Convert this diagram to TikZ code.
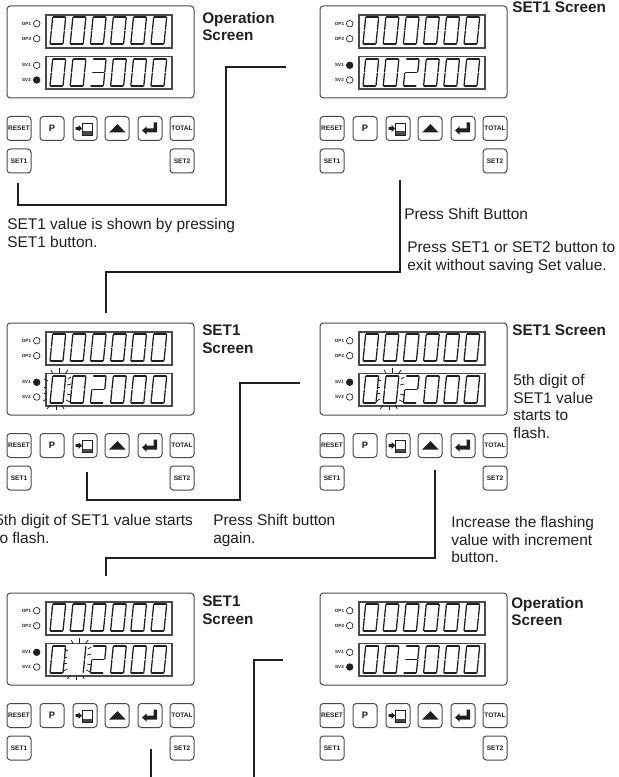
\documentclass[tikz,border=0pt]{standalone}
\usepackage{fontspec}
\setmainfont{Liberation Sans}
\definecolor{INKdark}{HTML}{231F20}
\definecolor{INKgray}{HTML}{4A4A4A}
\usetikzlibrary{calc, positioning}
\tikzset{
   note/.style={anchor=north west, inner sep=0pt, align=left, text=INKdark,
      font=\fontsize{11.6}{13.2}\selectfont},
   title/.style={note, font=\fontsize{11.5}{13.2}\selectfont\bfseries},
   wire/.style={INKdark, line width=1.1pt},
   casing/.style={INKgray, line width=0.75pt, rounded corners=2.5pt},
   window/.style={INKgray, line width=0.9pt},
   segline/.style={INKdark, line width=0.95pt, line cap=round},
   flashline/.style={INKdark, line width=0.6pt},
   key/.style={draw=INKgray, line width=0.75pt, rounded corners=2.5pt, minimum size=18pt,
      inner sep=0pt, text=INKdark},
   keylabel/.style={font=\fontsize{4.9}{5}\selectfont\bfseries},
   ledlabel/.style={inner sep=0pt, text=INKdark, font=\fontsize{3.4}{4}\selectfont\bfseries}
}
% One seven segment digit, origin at its lower left corner
\newcommand{\segA}{\draw[segline] (0.6,-27) -- (12.4,-27);}
\newcommand{\segB}{\draw[segline] (13,-26.4) -- (13,-14.2);}
\newcommand{\segC}{\draw[segline] (13,-12.8) -- (13,-0.6);}
\newcommand{\segD}{\draw[segline] (0.6,0) -- (12.4,0);}
\newcommand{\segE}{\draw[segline] (0,-12.8) -- (0,-0.6);}
\newcommand{\segF}{\draw[segline] (0,-26.4) -- (0,-14.2);}
\newcommand{\segG}{\draw[segline] (1,-13.5) -- (12,-13.5);}
\newcommand{\segdigit}[1]{%
   \ifcase#1\relax
      \segA\segB\segC\segD\segE\segF
   \or \segB\segC
   \or \segA\segB\segG\segE\segD
   \or \segA\segB\segG\segC\segD
   \fi}
% Digit row and the flash ticks
\newcommand{\digitrow}[2]{%
   \foreach \v [count=\n from 0] in {#2} {
      \begin{scope}[shift={(43+20.2*\n,#1)}, xslant=0.1]
         \segdigit{\v}
      \end{scope}
   }}
\newcommand{\flashmarks}[2]{%
   \begin{scope}[shift={(43+20.2*#2,#1)}]
      \foreach \a/\b/\c/\d in {3/-29/1/-33, 9/-30/9/-35, 15/-29/18/-33,
         0/2/-3/6, 6.5/2/6.5/7, 12/2/14/6,
         -2/-22/-6/-24, -3/-16/-6/-16, -3/-10/-6/-10, -3/-4/-7/-2,
         18/-24/21/-26, 17/-18/21/-19, 17/-9/21/-8, 16/-3/20/-1} {
         \draw[flashline] (\a,\b) -- (\c,\d);
      }
   \end{scope}}
% Complete front panel
\newcommand{\devicepanel}[7]{%
   \begin{scope}[shift={(#2,#3)}]
      \draw[casing] (0,0) rectangle (187,92);
      \draw[window] (39,9) rectangle (165,42);
      \draw[window] (39,50.5) rectangle (165,83);
      \digitrow{38}{0,0,0,0,0,0}
      \digitrow{80}{#4}
      \ifnum#7>-1 \flashmarks{80}{#7}\fi
      % Lamps
      \draw[INKdark, line width=0.5pt] (29.7,17.7) circle (3.3);
      \draw[INKdark, line width=0.5pt] (29.7,32.7) circle (3.3);
      \draw[INKdark, line width=0.5pt, fill=#5] (29.7,59.3) circle (3.3);
      \draw[INKdark, line width=0.5pt, fill=#6] (29.7,74) circle (3.3);
      \node[ledlabel] (#1op1) at (19.5,17.7) {OP1};
      \node[ledlabel] (#1op2) at (19.5,32.7) {OP2};
      \node[ledlabel] (#1sv1) at (19.5,59.3) {SV1};
      \node[ledlabel] (#1sv2) at (19.5,74) {SV2};
      % Keys
      \node[key, keylabel] (#1reset) at (12,122.5) {RESET};
      \node[key, font=\fontsize{7}{8}\selectfont\bfseries] (#1prog) at (45,122.5) {P};
      \node[key] (#1shift) at (78,122.5) {};
      \node[key] (#1up) at (110,122.5) {};
      \node[key] (#1enter) at (143,122.5) {};
      \node[key, keylabel] (#1total) at (175,122.5) {TOTAL};
      \node[key, keylabel] (#1set1) at (12,155) {SET1};
      \node[key, keylabel] (#1set2) at (175,155) {SET2};
      % Key symbols
      \fill[INKdark] (68.5,121) -- (71.5,121) -- (71.5,119) -- (75,122.5) -- (71.5,126) -- (71.5,124) -- (68.5,124) -- cycle;
      \draw[INKdark, line width=0.6pt] (75.5,117) rectangle (85,129);
      \fill[INKgray] (75.5,125.5) rectangle (85,129);
      \fill[INKdark] (102,126.5) -- (110.5,118) -- (118.5,126.5) -- cycle;
      \fill[INKdark] (150,116.5) -- (150,126.5) -- (139.5,126.5) -- (139.5,128.5) -- (135,124.5) -- (139.5,120.5) -- (139.5,122.5) -- (146.5,122.5) -- (146.5,116.5) -- cycle;
   \end{scope}}

\begin{document}
\begin{tikzpicture}[x=0.75pt, y=-0.75pt]
   \useasboundingbox (0,0) rectangle (618,777);
   % Panels
   \devicepanel{opa}{7}{6}{0,0,3,0,0,0}{white}{INKdark}{-1}
   \devicepanel{seta}{320}{6}{0,0,2,0,0,0}{INKdark}{white}{-1}
   \devicepanel{setb}{7}{323}{0,0,2,0,0,0}{INKdark}{white}{0}
   \devicepanel{setc}{320}{323}{0,0,2,0,0,0}{INKdark}{white}{1}
   \devicepanel{setd}{7}{593}{0,1,2,0,0,0}{INKdark}{white}{1}
   \devicepanel{opb}{320}{593}{0,0,3,0,0,0}{white}{INKdark}{-1}
   % Screen titles
   \node[title] (toptitle) at (202,12) {Operation\\Screen};
   \node[title] (settitlea) at (512,2) {SET1 Screen};
   \node[title] (settitleb) at (202,325) {SET1\\Screen};
   \node[title] (settitlec) at (512,325) {SET1 Screen};
   \node[title] (settitled) at (202,596) {SET1\\Screen};
   \node[title] (endtitle) at (511,597) {Operation\\Screen};
   % Notes
   \node[note] (noteset) at (7,218) {SET1 value is shown by pressing\\SET1 button.};
   \node[note] (noteshift) at (404,208) {Press Shift Button};
   \node[note] (noteexit) at (407,241) {Press SET1 or SET2 button to\\exit without saving Set value.};
   \node[note] (notefifth) at (513,374) {5th digit of\\SET1 value\\starts to\\flash.};
   \node[note] (noteflash) at (-5,514) {5th digit of SET1 value starts\\to flash.};
   \node[note] (noteagain) at (213,514) {Press Shift button\\again.};
   \node[note] (noteinc) at (451,516) {Increase the flashing\\value with increment\\button.};
   % Connector ends and bends
   \coordinate (wa) at (18,183);
   \coordinate (wb) at (226,205);
   \coordinate (wc) at (286,67);
   \coordinate (xa) at (400,180);
   \coordinate (xb) at (106,272);
   \coordinate (xc) at (106,313);
   \coordinate (ya) at (87,472);
   \coordinate (yb) at (240,500);
   \coordinate (yc) at (300,383);
   \coordinate (za) at (435,470);
   \coordinate (zb) at (106,558);
   \coordinate (zc) at (106,576);
   \coordinate (ua) at (151,749);
   \coordinate (ub) at (151,777);
   \coordinate (va) at (254,777);
   \coordinate (vb) at (283,660);
   % Connectors
   \draw[wire] (wa) |- (wb) |- (wc);
   \draw[wire] (xa) |- (xb) -- (xc);
   \draw[wire] (ya) |- (yb) |- (yc);
   \draw[wire] (za) |- (zb) -- (zc);
   \draw[wire] (ua) -- (ub);
   \draw[wire] (va) |- (vb);
\end{tikzpicture}
\end{document}
